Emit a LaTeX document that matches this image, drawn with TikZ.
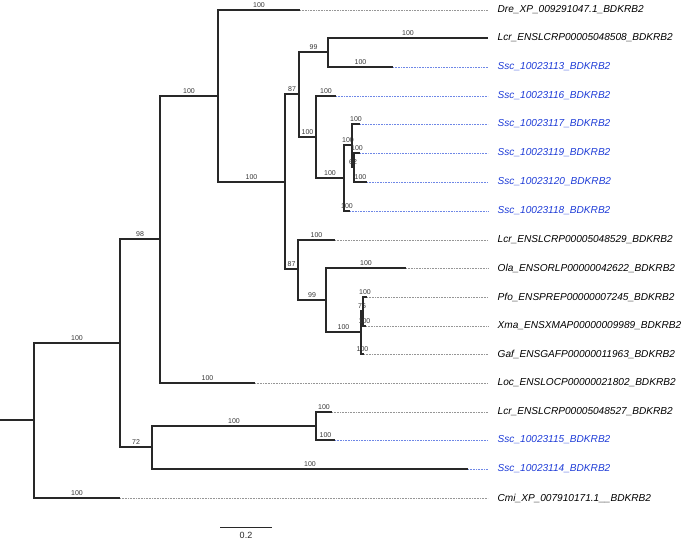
\documentclass[tikz,border=0pt]{standalone}
\usepackage{fontspec}
\setmainfont{Liberation Sans}
\definecolor{brc}{RGB}{40,40,40}
\definecolor{bsc}{RGB}{55,55,55}
\definecolor{sscblue}{RGB}{30,60,215}
\definecolor{dotgrey}{RGB}{150,150,150}
\definecolor{dotblue}{RGB}{110,135,230}
\newcommand\inode[5]{%
  \coordinate (#1) at (#3,#4);
  \draw[branch] (#2) |- node[bs,pos=0.75]{#5} (#1);}
\newcommand\tleaf[7]{%
  \coordinate (#1) at (#3,#4);
  \draw[branch] (#2) |- node[bs,pos=0.75]{#5} (#1);
  \node[leaftxt,txt#7] (t#1) at (497.5,#4) {#6};
  \draw[dot#7] (#1) -- (t#1.west);}
\begin{document}
\begin{tikzpicture}[x=1pt,y=-1pt,
  branch/.style={brc,line width=1.15pt},
  bs/.style={font=\fontsize{7}{8}\selectfont,text=bsc,anchor=base,inner sep=0pt,yshift=3pt},
  leaftxt/.style={anchor=west,inner sep=0pt,font=\fontsize{10.1}{12}\selectfont\itshape},
  txtk/.style={text=black},
  txtb/.style={text=sscblue},
  dotk/.style={dotgrey,line width=0.6pt,dash pattern=on 0.8pt off 0.8pt,shorten >=9.5pt},
  dotb/.style={dotblue,line width=0.6pt,dash pattern=on 0.8pt off 0.8pt,shorten >=9.5pt}]
\useasboundingbox (0,0) rectangle (685,541);
\coordinate (stub) at (0,420);
\coordinate (root) at (34,420);
\draw[branch] (stub) -- (root);
\inode{nA}{root}{120}{343}{100}
\tleaf{Cmi}{root}{120}{498}{100}{Cmi\_XP\_007910171.1\_\_BDKRB2}{k}
\inode{nB}{nA}{160}{239}{98}
\inode{nP}{nA}{152}{447}{72}
\inode{nC}{nB}{218}{96}{100}
\tleaf{Loc}{nB}{255}{383}{100}{Loc\_ENSLOCP00000021802\_BDKRB2}{k}
\tleaf{Dre}{nC}{300}{10}{100}{Dre\_XP\_009291047.1\_BDKRB2}{k}
\inode{nD}{nC}{285}{182}{100}
\inode{nE}{nD}{299}{94}{87}
\inode{nF}{nE}{328}{52}{99}
\tleaf{LcrA}{nF}{488}{38}{100}{Lcr\_ENSLCRP00005048508\_BDKRB2}{k}
\tleaf{SscA}{nF}{393}{67}{100}{Ssc\_10023113\_BDKRB2}{b}
\inode{nG}{nE}{316}{137}{100}
\tleaf{SscB}{nG}{336}{96}{100}{Ssc\_10023116\_BDKRB2}{b}
\inode{nH}{nG}{344}{178}{100}
\inode{nI}{nH}{352}{145}{100}
\tleaf{SscC}{nI}{360}{124}{100}{Ssc\_10023117\_BDKRB2}{b}
\inode{nJ}{nI}{354}{167}{62}
\tleaf{SscD}{nJ}{360}{153}{100}{Ssc\_10023119\_BDKRB2}{b}
\tleaf{SscE}{nJ}{367}{182}{100}{Ssc\_10023120\_BDKRB2}{b}
\tleaf{SscF}{nH}{350}{211}{100}{Ssc\_10023118\_BDKRB2}{b}
\inode{nK}{nD}{298}{269}{87}
\tleaf{LcrB}{nK}{335}{240}{100}{Lcr\_ENSLCRP00005048529\_BDKRB2}{k}
\inode{nL}{nK}{326}{300}{99}
\tleaf{Ola}{nL}{406}{268}{100}{Ola\_ENSORLP00000042622\_BDKRB2}{k}
\inode{nM}{nL}{361}{332}{100}
\inode{nN}{nM}{363}{311}{76}
\tleaf{Pfo}{nN}{367}{297}{100}{Pfo\_ENSPREP00000007245\_BDKRB2}{k}
\tleaf{Xma}{nN}{366}{326}{100}{Xma\_ENSXMAP00000009989\_BDKRB2}{k}
\tleaf{Gaf}{nM}{364}{354}{100}{Gaf\_ENSGAFP00000011963\_BDKRB2}{k}
\inode{nQ}{nP}{316}{426}{100}
\tleaf{LcrC}{nQ}{332}{412}{100}{Lcr\_ENSLCRP00005048527\_BDKRB2}{k}
\tleaf{SscG}{nQ}{335}{440}{100}{Ssc\_10023115\_BDKRB2}{b}
\tleaf{SscH}{nP}{468}{469}{100}{Ssc\_10023114\_BDKRB2}{b}
\coordinate (sb1) at (220,527);
\coordinate (sb2) at (272,527);
\draw[branch,line width=1pt] (sb1) -- node[anchor=north,inner sep=0pt,yshift=-5pt,font=\fontsize{9}{10}\selectfont,text=brc] (sbl) {0.2} (sb2);
\end{tikzpicture}
\end{document}
